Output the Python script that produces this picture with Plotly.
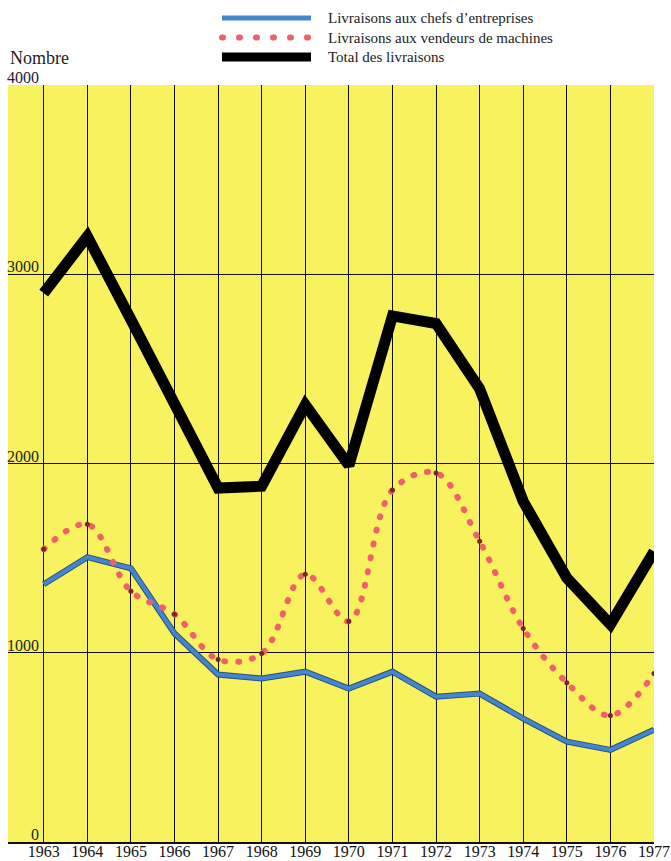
import plotly.graph_objects as go

# données
annees = list(range(1963, 1978))
total = [2900, 3200, 2760, 2330, 1870, 1880, 2310, 1990, 2780, 2740, 2395, 1800, 1395, 1150, 1535]
chefs = [1362, 1505, 1446, 1102, 885, 864, 900, 811, 900, 768, 784, 652, 530, 487, 593]
vendeurs = [1547, 1679, 1325, 1203, 964, 996, 1415, 1166, 1860, 1950, 1589, 1128, 842, 668, 890]
y_ticks = [0, 1000, 2000, 3000, 4000]
noms = ["Livraisons aux chefs d\u2019entreprises",
        "Livraisons aux vendeurs de machines",
        "Total des livraisons"]

police = "Liberation Serif"
jaune = "#f8f25e"
bleu, rouge, noir = "#4585cc", "#f0606a", "#000000"

W, H = 671, 861
L, R, T, B = 8, 17, 85, 19

fig = go.Figure()

# bord foncé de la ligne bleue
fig.add_trace(go.Scatter(
    x=annees, y=chefs, mode="lines", showlegend=False,
    line=dict(color="#27527f", width=6),
))
fig.add_trace(go.Scatter(
    x=annees, y=chefs, mode="lines", name=noms[0], showlegend=False,
    line=dict(color=bleu, width=4),
))
fig.add_trace(go.Scatter(
    x=annees, y=vendeurs, mode="lines", name=noms[1], showlegend=False,
    line=dict(color=rouge, width=6, dash="1px,13px", shape="spline", smoothing=1),
))
# points foncés aux années
fig.add_trace(go.Scatter(
    x=annees, y=vendeurs, mode="markers", showlegend=False,
    marker=dict(color="#7a2430", size=5),
))
fig.add_trace(go.Scatter(
    x=annees, y=total, mode="lines", name=noms[2], showlegend=False,
    line=dict(color=noir, width=11),
))

# légende dessinée à la main (échantillons longs comme sur l'original)
pw, ph = W - L - R, H - T - B
def px(x): return (x - L) / pw
def py(y): return (H - B - y) / ph

styles = [dict(color=bleu, width=5), dict(color=rouge, width=6, dash="1px,16px"),
          dict(color=noir, width=9)]
for i, (nom, st) in enumerate(zip(noms, styles)):
    yy = py(18 + i * 19.5)
    fig.add_shape(type="line", xref="paper", yref="paper",
                  x0=px(222), x1=px(311), y0=yy, y1=yy, line=st)
    fig.add_annotation(xref="paper", yref="paper", x=px(326), y=yy, text=nom,
                       showarrow=False, xanchor="left", yanchor="middle",
                       font=dict(family=police, size=15, color="#222"))

# étiquettes de l'axe vertical, au-dessus des lignes
for v in y_ticks:
    fig.add_annotation(x=1963, y=v, xref="x", yref="y", text=str(v),
                       showarrow=False, xanchor="right", yanchor="bottom",
                       xshift=-3, yshift=-3, font=dict(family=police, size=16, color="#222"))
fig.add_annotation(x=0, y=4000, xref="paper", yref="y", text="Nombre",
                   showarrow=False, xanchor="left", yanchor="bottom",
                   xshift=0, yshift=15, font=dict(family=police, size=18, color="#222"))

fig.update_layout(
    width=W, height=H,
    margin=dict(l=L, r=R, t=T, b=B, autoexpand=False),
    paper_bgcolor="white", plot_bgcolor=jaune,
    font=dict(family=police, size=16, color="#222"),
    showlegend=False,
)
fig.update_xaxes(
    range=[1962.18, 1977], tickvals=annees, ticktext=[str(a) for a in annees],
    showgrid=True, gridcolor="#111", gridwidth=1, zeroline=False,
    showline=True, linecolor="#111", linewidth=1.5,
    ticks="", ticklabeloverflow="allow", automargin=False,
    ticklabelstandoff=-6,
    tickfont=dict(family=police, size=16, color="#111"),
)
fig.update_yaxes(
    range=[0, 4000], tickvals=y_ticks, showticklabels=False,
    showgrid=True, gridcolor="#111", gridwidth=1, zeroline=False,
    showline=False, ticks="", automargin=False,
)

# marge de la page à zéro et points ronds pour les pointillés
js = """
document.body.style.margin = '0';
var gd = document.getElementById('{plot_id}');
function arrondir(){
  gd.querySelectorAll('path').forEach(function(p){
    var d = p.style.strokeDasharray || '';
    if (d.indexOf('13px') >= 0 || d.indexOf('16px') >= 0) { p.style.strokeLinecap = 'round'; }
  });
}
arrondir();
gd.on('plotly_afterplot', arrondir);
"""

fig.write_html("out.html", post_script=js, config={"displayModeBar": False})
